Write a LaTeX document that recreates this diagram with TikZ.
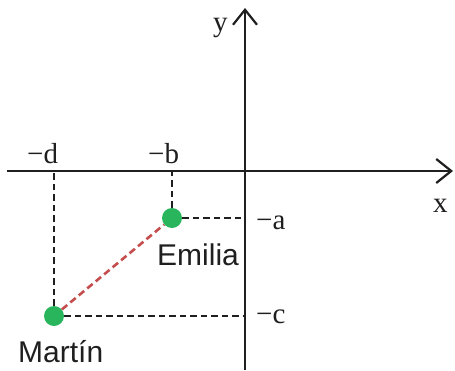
\documentclass[tikz,border=0pt]{standalone}
\usepackage{fontspec}
\setmainfont{Liberation Serif}
\newfontfamily\personfont{Liberation Sans}
\usetikzlibrary{arrows.meta}
\definecolor{dotGreen}{RGB}{41,181,92}
\definecolor{lineRed}{RGB}{196,78,78}
\colorlet{axisBlack}{black!88}

\begin{document}
\begin{tikzpicture}[x=1pt,y=-1pt,
  axis/.style={line width=2.2pt,axisBlack,-{Straight Barb[length=15pt,width=24pt,line width=2.2pt]}},
  guide/.style={line width=2.4pt,axisBlack,dash pattern=on 6.5pt off 4pt},
  dot/.style={circle,fill=dotGreen,inner sep=0pt,minimum size=20pt},
  lbl/.style={anchor=base west,inner sep=0pt,text=axisBlack,font=\fontsize{29}{32}\selectfont},
  person/.style={anchor=base west,inner sep=0pt,text=axisBlack,font=\personfont\fontsize{30}{33}\selectfont}]
  \useasboundingbox (0,0) rectangle (455,370);

  % axes
  \coordinate (xstart) at (7,171);
  \coordinate (xend) at (453,171);
  \coordinate (ystart) at (245,370);
  \coordinate (yend) at (245,8);
  \draw[axis] (xstart) -- (xend);
  \draw[axis] (ystart) -- (yend);

  % the two points
  \node[dot] (emilia) at (172,218) {};
  \node[dot] (martin) at (54,316) {};

  \coordinate (footb) at (172,171);
  \coordinate (foota) at (245,218);
  \coordinate (footd) at (54,171);
  \coordinate (footc) at (245,316);
  \draw[guide] (emilia) -- (footb);
  \draw[guide] (emilia) -- (foota);
  \draw[guide] (martin) -- (footd);
  \draw[guide] (martin) -- (footc);
  \draw[line width=2.6pt,lineRed,dash pattern=on 7pt off 4pt] (martin) -- (emilia);

  % labels
  \node[lbl] (labx) at (433,212) {x};
  \node[lbl] (laby) at (213,31) {y};
  \node[lbl] (labd) at (27,163) {−d};
  \node[lbl] (labb) at (148,163) {−b};
  \node[lbl] (laba) at (256,229) {−a};
  \node[lbl] (labc) at (256,323) {−c};
  \node[person] (nameemilia) at (157,265) {Emilia};
  \node[person] (namemartin) at (18,362) {Martín};
\end{tikzpicture}
\end{document}
